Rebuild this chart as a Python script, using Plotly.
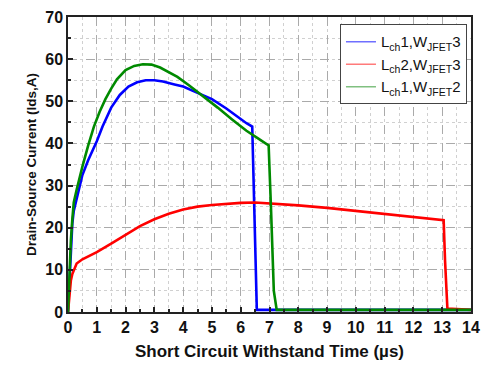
import plotly.graph_objects as go

# Lch1, WJFET3 (blue)
t_blue = [0, 0.05, 0.1, 0.15, 0.2, 0.3, 0.4, 0.5, 0.7, 1.0, 1.2, 1.5, 1.8, 2.1, 2.4, 2.7, 3.0, 3.3, 3.7, 4.0,
          4.5, 5.0, 5.5, 6.0, 6.2, 6.4, 6.45, 6.5, 6.56, 7.0, 8.0, 14.0]
i_blue = [0, 8, 16, 21, 24, 27, 30, 32.5, 36, 40.5, 44, 48.5, 51.5, 53.5, 54.5, 55, 55, 54.7, 54, 53.5,
          52, 50.5, 48.3, 45.7, 44.8, 44, 30, 10, 0.5, 0.5, 0.5, 0.5]

# Lch2, WJFET3 (red)
t_red = [0, 0.05, 0.1, 0.15, 0.2, 0.3, 0.5, 0.8, 1.0, 1.5, 2.0, 2.5, 3.0, 3.5, 4.0, 4.5, 5.0, 5.5, 6.0, 6.5,
         7.0, 7.5, 8.0, 9.0, 10.0, 11.0, 12.0, 12.5, 13.0, 13.05, 13.1, 13.18, 14.0]
i_red = [0, 4, 7.5, 9, 10, 11.5, 12.5, 13.5, 14.2, 16.2, 18.4, 20.4, 22, 23.3, 24.3, 25, 25.4, 25.7, 25.9, 26,
         25.8, 25.6, 25.3, 24.7, 24, 23.3, 22.6, 22.3, 22, 21.8, 12, 0.8, 0.5]

# Lch1, WJFET2 (green)
t_green = [0, 0.05, 0.1, 0.15, 0.2, 0.3, 0.4, 0.5, 0.7, 0.9, 1.1, 1.3, 1.5, 1.7, 2.0, 2.3, 2.6, 2.9, 3.2, 3.5,
           3.8, 4.2, 4.7, 5.2, 5.7, 6.2, 6.6, 6.97, 7.05, 7.15, 7.25, 8.0, 14.0]
i_green = [0, 9, 17, 22, 26, 29, 32, 34.5, 39.5, 44, 47.5, 50.5, 53, 55.2, 57.4, 58.4, 58.8, 58.7, 58, 57,
           55.8, 53.8, 51.2, 48.5, 45.7, 43, 41.2, 39.5, 25, 5, 0.5, 0.5, 0.5]

names = ["L<sub>ch</sub>1,W<sub>JFET</sub>3", "L<sub>ch</sub>2,W<sub>JFET</sub>3", "L<sub>ch</sub>1,W<sub>JFET</sub>2"]
colors = ["#0000ff", "#ff0000", "#008a00"]
legend_colors = ["#6f6fff", "#ff7a7a", "#80c080"]
x_ticks = list(range(0, 15))
y_ticks = [0, 10, 20, 30, 40, 50, 60, 70]

fig = go.Figure()
series = [(t_blue, i_blue), (t_red, i_red), (t_green, i_green)]
for (t, i), c, n in zip(series, colors, names):
    fig.add_trace(go.Scatter(x=t, y=i, mode="lines", line=dict(color=c, width=2.6),
                             name=n, legendgroup=n, showlegend=False))
for c, n in zip(legend_colors, names):
    fig.add_trace(go.Scatter(x=[None], y=[None], mode="lines", line=dict(color=c, width=1.5),
                             name=n, legendgroup=n, showlegend=True))

axis_common = dict(
    showline=True, linecolor="#222", linewidth=1.5, mirror=True,
    ticks="inside", ticklen=5, tickcolor="#222", tickwidth=1.5,
    showgrid=True, gridcolor="#aaaaaa", griddash="dash", gridwidth=1,
    zeroline=False,
    tickfont=dict(family="Liberation Sans", size=16, color="#111", weight="bold"),
)

fig.update_layout(
    width=489, height=367,
    margin=dict(l=68, r=9, t=15, b=51),
    paper_bgcolor="white", plot_bgcolor="white",
    xaxis=dict(range=[0, 14], tickvals=x_ticks, **axis_common,
               minor=dict(dtick=0.5, showgrid=True, gridcolor="#d0d0d0", griddash="dot",
                          ticks="inside", ticklen=3, tickcolor="#222"),
               title=dict(text="Short Circuit Withstand Time (µs)", standoff=10,
                          font=dict(family="Liberation Sans", size=17, color="#111", weight="bold"))),
    yaxis=dict(range=[0, 70], tickvals=y_ticks, **axis_common,
               minor=dict(dtick=5, showgrid=True, gridcolor="#d0d0d0", griddash="dot",
                          ticks="inside", ticklen=3, tickcolor="#222"),
               title=dict(text="Drain-Source Current (Ids,A)", standoff=6,
                          font=dict(family="Liberation Sans", size=13.5, color="#111", weight="bold"))),
    legend=dict(x=0.99, y=0.975, xanchor="right", yanchor="top",
                bgcolor="white", bordercolor="#444", borderwidth=1,
                font=dict(family="Liberation Sans", size=15, color="#111"),
                tracegroupgap=0, itemwidth=30),
)

fig.write_html("out.html")
